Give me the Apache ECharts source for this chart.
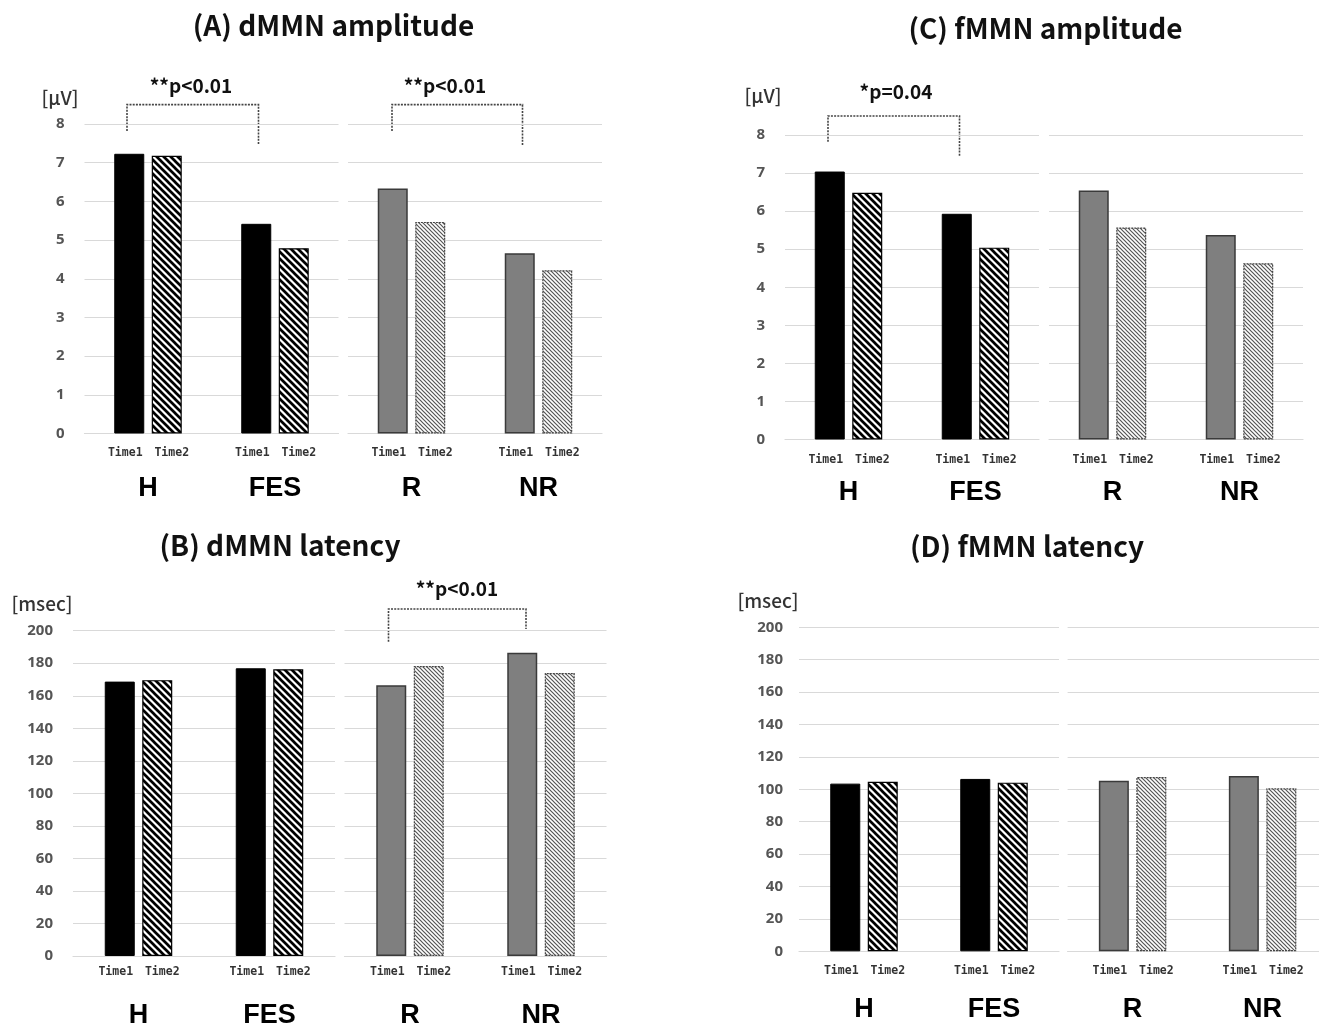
<!DOCTYPE html>
<html><head><meta charset="utf-8">
<script src="https://cdn.jsdelivr.net/npm/echarts@6/dist/echarts.min.js"></script>
<style>html,body{margin:0;padding:0;background:#fff}#c{width:1319px;height:1026px}</style>
</head><body><div id="c"></div>
<script>
// ---------- data ----------
const leftGroups = ['H', 'FES'];
const rightGroups = ['R', 'NR'];
const timeNames = ['Time1', 'Time2'];
// order: H, FES, R, NR
const dAmpTime1 = [7.23, 5.42, 6.33, 4.66];
const dAmpTime2 = [7.18, 4.79, 5.47, 4.22];
const fAmpTime1 = [7.04, 5.93, 6.54, 5.37];
const fAmpTime2 = [6.48, 5.04, 5.57, 4.63];
const dLatTime1 = [168.7, 176.9, 166.5, 186.5];
const dLatTime2 = [169.6, 176.3, 178.3, 174.0];
const fLatTime1 = [103.5, 106.4, 105.3, 108.2];
const fLatTime2 = [104.7, 104.1, 107.6, 100.6];
const ampAxis = { min: 0, max: 8, interval: 1 };
const latAxis = { min: 0, max: 200, interval: 20 };
const titles = ['(A) dMMN amplitude', '(C) fMMN amplitude', '(B) dMMN latency', '(D) fMMN latency'];
const units = ['[μV]', '[μV]', '[msec]', '[msec]'];
const brackets = [
  { grid: 0, from: 'H', to: 'FES', top: 8.5, leftEnd: 7.82, rightEnd: 7.46, text: '**p<0.01', textVal: 9.0 },
  { grid: 1, from: 'R', to: 'NR', top: 8.5, leftEnd: 7.82, rightEnd: 7.44, text: '**p<0.01', textVal: 9.0 },
  { grid: 2, from: 'H', to: 'FES', top: 8.5, leftEnd: 7.82, rightEnd: 7.45, text: '*p=0.04', textVal: 9.14 },
  { grid: 5, from: 'R', to: 'NR', top: 213.3, leftEnd: 193.2, rightEnd: 201, text: '**p<0.01', textVal: 225.6 }
];

// ---------- layout / style ----------
const panels = [
  { t1: dAmpTime1, t2: dAmpTime2, ax: ampAxis, grids: [[84.5, 124, 254, 309.5], [348, 124, 254, 309.5]], timeDist: 14, grpMargin: 42, labMargin: 20, title: [333.5, 25], unit: [60, 98] },
  { t1: fAmpTime1, t2: fAmpTime2, ax: ampAxis, grids: [[785, 135, 254, 304.5], [1049, 135, 254, 304.5]], timeDist: 15, grpMargin: 40, labMargin: 20, title: [1045.5, 28], unit: [763, 96] },
  { t1: dLatTime1, t2: dLatTime2, ax: latAxis, grids: [[73, 630.7, 262, 325.3], [344.5, 630.7, 262, 325.3]], timeDist: 10, grpMargin: 46, labMargin: 20, title: [280, 545], unit: [42, 604] },
  { t1: fLatTime1, t2: fLatTime2, ax: latAxis, grids: [[799, 627.3, 260, 324], [1067.6, 627.3, 260, 324]], timeDist: 14, grpMargin: 45, labMargin: 16, title: [1027, 546], unit: [768, 601] }
];
const bracketDx = { 0: [-21, -16.5, 64], 1: [-19.5, -16, 53], 2: [-20.5, -16, 68], 5: [-21.5, -15, 68.5] };
const timeLabelOffset = [[-4, 0], [5, 0]];

function hatch(size, lw, color) {
  const c = document.createElement('canvas');
  c.width = size; c.height = size;
  const g = c.getContext('2d');
  g.fillStyle = '#fff'; g.fillRect(0, 0, size, size);
  g.strokeStyle = color; g.lineWidth = lw;
  g.beginPath();
  for (const x0 of [-size, 0, size]) { g.moveTo(x0 - 1, -1); g.lineTo(x0 + size + 1, size + 1); }
  g.stroke();
  return c;
}
const blackHatch = { image: hatch(7, 2.7, '#000'), repeat: 'repeat' };
const grayHatch = { image: hatch(4, 1.2, '#555'), repeat: 'repeat' };

const FONT = '"Noto Sans CJK JP", "Noto Sans", sans-serif';
const grid = [], xAxis = [], yAxis = [], series = [], graphic = [];

panels.forEach((p, pi) => {
  p.grids.forEach((gr, side) => {
    const gi = grid.length;
    grid.push({ left: gr[0], top: gr[1], width: gr[2], height: gr[3], outerBoundsMode: 'none', containLabel: false });
    const cats = side === 0 ? leftGroups : rightGroups;
    const off = side === 0 ? 0 : 2;
    xAxis.push({
      type: 'category', gridIndex: gi, data: cats,
      axisTick: { show: false },
      axisLine: { lineStyle: { color: '#d9d9d9', width: 1.2 } },
      axisLabel: { margin: p.grpMargin, fontSize: 27, fontWeight: 'bold', color: '#000', fontFamily: '"Liberation Sans", Arial, sans-serif' }
    });
    yAxis.push({
      type: 'value', gridIndex: gi, min: p.ax.min, max: p.ax.max, interval: p.ax.interval,
      axisLine: { show: false }, axisTick: { show: false },
      splitLine: { lineStyle: { color: '#d9d9d9', width: 1.2 } },
      axisLabel: { show: side === 0, margin: p.labMargin, fontSize: 15, fontWeight: 'bold', color: '#555', fontFamily: '"Noto Sans", sans-serif' }
    });
    const t1Style = side === 0
      ? { color: '#000', borderColor: '#000', borderWidth: 1 }
      : { color: '#7f7f7f', borderColor: '#3a3a3a', borderWidth: 1.5 };
    const t2Style = side === 0
      ? { color: blackHatch, borderColor: '#000', borderWidth: 1.2 }
      : { color: grayHatch, borderColor: '#444', borderWidth: 1.2, borderType: [2, 1] };
    [p.t1, p.t2].forEach((arr, ti) => {
      series.push({
        type: 'bar', name: timeNames[ti], xAxisIndex: gi, yAxisIndex: gi,
        data: arr.slice(off, off + 2),
        barWidth: 30, barGap: '25%',
        itemStyle: ti === 0 ? t1Style : t2Style,
        label: { show: true, position: 'bottom', distance: p.timeDist, offset: timeLabelOffset[ti], formatter: timeNames[ti], fontSize: 11.5, fontWeight: 'bold', color: '#333', fontFamily: '"DejaVu Sans Mono", monospace' },
        emphasis: { disabled: true }, silent: true, animation: false
      });
    });
  });
  graphic.push({ type: 'text', x: p.title[0], y: p.title[1], style: { text: titles[pi], textAlign: 'center', textVerticalAlign: 'middle', font: 'bold 28px ' + FONT, fill: '#111' } });
  graphic.push({ type: 'text', x: p.unit[0], y: p.unit[1], style: { text: units[pi], textAlign: 'center', textVerticalAlign: 'middle', font: '500 19px ' + FONT, fill: '#333' } });
});

const chart = echarts.init(document.getElementById('c'), null, { renderer: 'canvas' });
chart.setOption({ animation: false, grid, xAxis, yAxis, series, graphic });

// brackets computed through the axes
brackets.forEach(b => {
  const f = { gridIndex: b.grid };
  const d = bracketDx[b.grid];
  const pl = chart.convertToPixel(f, [b.from, b.leftEnd]);
  const pt = chart.convertToPixel(f, [b.from, b.top]);
  const pr = chart.convertToPixel(f, [b.to, b.rightEnd]);
  const ptx = chart.convertToPixel(f, [b.from, b.textVal]);
  const xl = pl[0] + d[0], xr = pr[0] + d[1];
  graphic.push({ type: 'polyline', shape: { points: [[xl, pl[1]], [xl, pt[1]], [xr, pt[1]], [xr, pr[1]]] }, style: { stroke: '#444', lineWidth: 1.6, lineDash: [2, 1.2], fill: null } });
  graphic.push({ type: 'text', x: xl + d[2], y: ptx[1], style: { text: b.text, textAlign: 'center', textVerticalAlign: 'middle', font: 'bold 19px ' + FONT, fill: '#111' } });
});
chart.setOption({ graphic });
</script></body></html>
